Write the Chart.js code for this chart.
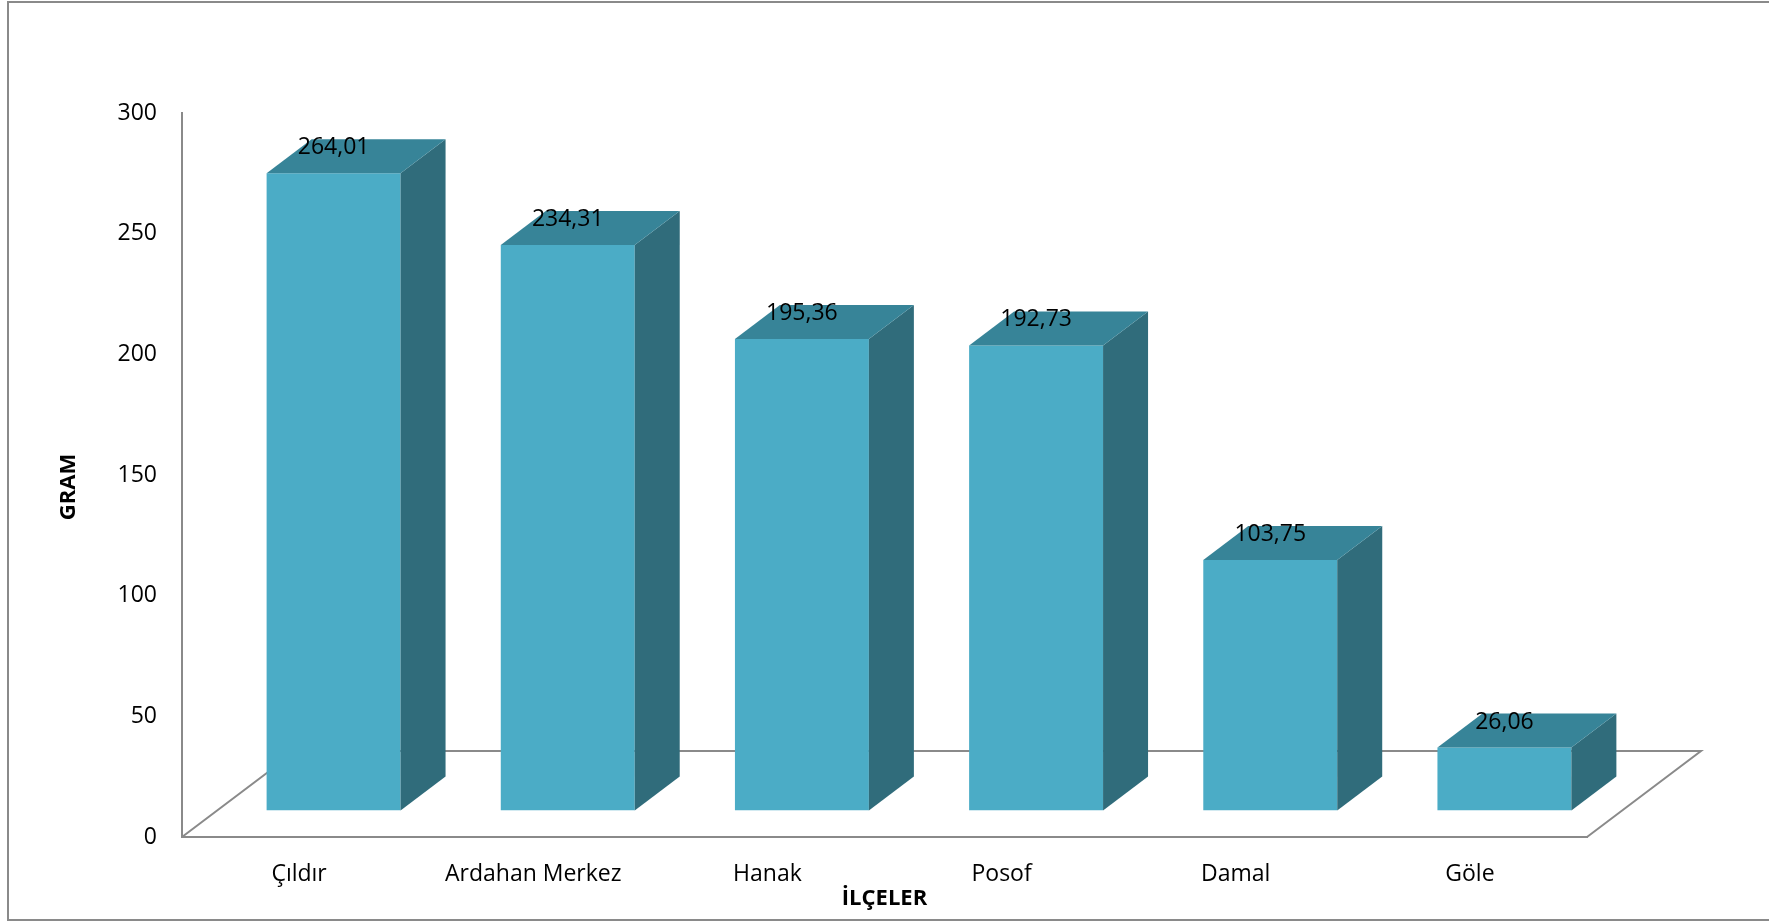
<!DOCTYPE html>
<html>
<head>
<meta charset="utf-8">
<script src="https://cdn.jsdelivr.net/npm/chart.js@4.4.1/dist/chart.umd.min.js"></script>
<style>
  html, body { margin: 0; padding: 0; background: #fff; }
  #wrap { width: 1769px; height: 922px; }
</style>
</head>
<body>
<div id="wrap"><canvas id="chart" width="1769" height="922"></canvas></div>
<script>
const districts = ['Çıldır', 'Ardahan Merkez', 'Hanak', 'Posof', 'Damal', 'Göle'];
const grams = [264.01, 234.31, 195.36, 192.73, 103.75, 26.06];
const yMin = 0, yMax = 300, yStep = 50;

const FRONT = '#4BACC6';
const SIDE = '#306C7B';
const TOP = '#378498';
const LINE = '#8a8a8a';

// 3d offsets: floor depth, bar front inset, bar depth
const FLOOR_DX = 114, FLOOR_DY = -86;
const BAR_DX = 34.5, BAR_DY = -26.5;
const DEPTH_DX = 45, DEPTH_DY = -34;

const fmt = v => v.toFixed(2).replace('.', ',');

const box3d = {
  id: 'box3d',
  beforeDraw(chart) {
    const ctx = chart.ctx;
    ctx.save();
    ctx.strokeStyle = LINE;
    ctx.lineWidth = 2;
    ctx.strokeRect(8, 2, 1770, 918);
    ctx.restore();
  },
  beforeDatasetsDraw(chart) {
    const {ctx, chartArea: a} = chart;
    const y0 = chart.scales.y.getPixelForValue(yMin);
    ctx.save();
    ctx.strokeStyle = LINE;
    ctx.lineWidth = 2;
    ctx.beginPath();
    ctx.moveTo(a.left, y0);
    ctx.lineTo(a.left + FLOOR_DX, y0 + FLOOR_DY);
    ctx.lineTo(a.right + FLOOR_DX, y0 + FLOOR_DY);
    ctx.lineTo(a.right, y0);
    ctx.stroke();
    ctx.restore();
    // bars sit halfway back on the floor
    ctx.save();
    ctx.translate(BAR_DX, BAR_DY);
  },
  afterDatasetsDraw(chart) {
    const ctx = chart.ctx;
    const meta = chart.getDatasetMeta(0);
    meta.data.forEach((bar, i) => {
      const {x, y, base, width} = bar.getProps(['x', 'y', 'base', 'width'], true);
      const l = x - width / 2, r = x + width / 2;
      ctx.fillStyle = SIDE;
      ctx.beginPath();
      ctx.moveTo(r, y);
      ctx.lineTo(r + DEPTH_DX, y + DEPTH_DY);
      ctx.lineTo(r + DEPTH_DX, base + DEPTH_DY);
      ctx.lineTo(r, base);
      ctx.closePath();
      ctx.fill();
      ctx.fillStyle = TOP;
      ctx.beginPath();
      ctx.moveTo(l, y);
      ctx.lineTo(l + DEPTH_DX, y + DEPTH_DY);
      ctx.lineTo(r + DEPTH_DX, y + DEPTH_DY);
      ctx.lineTo(r, y);
      ctx.closePath();
      ctx.fill();
      ctx.fillStyle = '#000';
      ctx.font = '23px "Open Sans"';
      ctx.textAlign = 'center';
      ctx.textBaseline = 'middle';
      ctx.fillText(fmt(grams[i]), x, y - 25.5);
    });
    ctx.restore();
  },
  afterDraw(chart) {
    const ctx = chart.ctx;
    ctx.save();
    ctx.translate(69, 487);
    ctx.rotate(-Math.PI / 2);
    ctx.fillStyle = '#000';
    ctx.font = 'bold 22px "Open Sans"';
    ctx.textAlign = 'center';
    ctx.textBaseline = 'middle';
    ctx.fillText('GRAM', 0, 0);
    ctx.restore();
  }
};

Chart.defaults.font.family = '"Open Sans"';
Chart.defaults.color = '#000';

new Chart(document.getElementById('chart'), {
  type: 'bar',
  data: {
    labels: districts,
    datasets: [{
      data: grams,
      backgroundColor: FRONT,
      borderWidth: 0,
      categoryPercentage: 1,
      barPercentage: 0.572
    }]
  },
  options: {
    responsive: false,
    animation: false,
    layout: { padding: { left: 0, right: 182, top: 113, bottom: 0 } },
    plugins: { legend: { display: false }, tooltip: { enabled: false } },
    scales: {
      x: {
        grid: { display: false, drawTicks: false },
        border: { display: true, color: LINE, width: 2 },
        ticks: { font: { size: 23 }, padding: 24, maxRotation: 0 },
        title: { display: true, text: 'İLÇELER', font: { size: 22, weight: 'bold' }, padding: { top: 0, bottom: 10 } },
        afterFit: s => { s.height = 85; }
      },
      y: {
        min: yMin,
        max: yMax,
        grid: { display: false, drawTicks: false },
        border: { display: true, color: LINE, width: 2 },
        ticks: { stepSize: yStep, font: { size: 23 }, padding: 25 },
        afterFit: s => { s.width = 182; }
      }
    }
  },
  plugins: [box3d]
});
</script>
</body>
</html>
